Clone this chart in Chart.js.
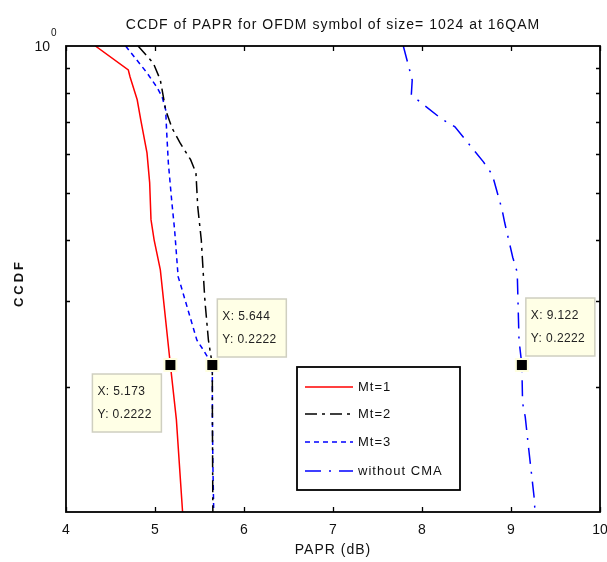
<!DOCTYPE html>
<html>
<head>
<meta charset="utf-8">
<script src="https://cdn.jsdelivr.net/npm/chart.js@4/dist/chart.umd.min.js"></script>
<style>
  body { margin: 0; background: #fff; }
  #wrap { width: 607px; height: 562px; }
</style>
</head>
<body>
<div id="wrap"><canvas id="c" width="607" height="562"></canvas></div>
<script>
// values
const seriesNames = ['Mt=1', 'Mt=2', 'Mt=3', 'without CMA'];

const mt1X = [4.33, 4.70, 4.72, 4.80, 4.84, 4.91, 4.94, 4.955, 4.99, 5.06, 5.173, 5.24, 5.31];
const mt1Y = [1.0, 0.893, 0.864, 0.776, 0.706, 0.604, 0.525, 0.441, 0.401, 0.348, 0.2222, 0.172, 0.1111];

const mt2X = [4.81, 4.98, 5.06, 5.09, 5.12, 5.19, 5.28, 5.40, 5.46, 5.48, 5.52, 5.54, 5.56, 5.60, 5.644, 5.645, 5.65];
const mt2Y = [1.0, 0.923, 0.852, 0.794, 0.740, 0.680, 0.634, 0.585, 0.550, 0.469, 0.401, 0.348, 0.302, 0.250, 0.2222, 0.172, 0.1111];

const mt3X = [4.67, 4.91, 5.02, 5.08, 5.12, 5.13, 5.15, 5.19, 5.22, 5.26, 5.28, 5.47, 5.54, 5.644, 5.645, 5.65, 5.66];
const mt3Y = [1.0, 0.881, 0.824, 0.787, 0.740, 0.673, 0.576, 0.477, 0.421, 0.337, 0.328, 0.250, 0.239, 0.2222, 0.174, 0.140, 0.1111];

const noCmaX = [7.79, 7.89, 7.88, 8.22, 8.37, 8.69, 8.79, 8.90, 8.93, 9.02, 9.07, 9.09, 9.122, 9.13, 9.16, 9.20, 9.26, 9.27];
const noCmaY = [1.0, 0.852, 0.794, 0.709, 0.683, 0.579, 0.545, 0.462, 0.434, 0.369, 0.344, 0.250, 0.2222, 0.186, 0.174, 0.149, 0.119, 0.1111];

const tipX = [5.173, 5.644, 9.122];
const tipY = [0.2222, 0.2222, 0.2222];

const xTicks = [4, 5, 6, 7, 8, 9, 10];
const yMinorTicks = [0.2, 0.3, 0.4, 0.5, 0.6, 0.7, 0.8, 0.9];

const FONT = '"Liberation Sans", Arial, sans-serif';

const pts = (xs, ys) => xs.map((x, i) => ({x: x, y: ys[i]}));

const styles = [
  {color: '#ff0000', dash: []},
  {color: '#000000', dash: [12, 5, 3, 5]},
  {color: '#0000ff', dash: [5, 4]},
  {color: '#0000ff', dash: [16, 8, 2, 8]},
];
const allData = [pts(mt1X, mt1Y), pts(mt2X, mt2Y), pts(mt3X, mt3Y), pts(noCmaX, noCmaY)];

// draws the box, ticks, labels, data tips and legend (matlab look)
const decor = {
  id: 'decor',
  afterDatasetsDraw(chart) {
    const ctx = chart.ctx;
    const a = chart.chartArea;
    const xs = chart.scales.x, ys = chart.scales.y;
    ctx.save();

    // axes box
    ctx.strokeStyle = '#000';
    ctx.lineWidth = 1.8;
    ctx.setLineDash([]);
    ctx.strokeRect(a.left, a.top, a.right - a.left, a.bottom - a.top);

    // ticks
    ctx.lineWidth = 1.3;
    ctx.beginPath();
    xTicks.forEach(v => {
      const px = Math.round(xs.getPixelForValue(v)) + 0.5;
      ctx.moveTo(px, a.bottom); ctx.lineTo(px, a.bottom - 5);
      ctx.moveTo(px, a.top); ctx.lineTo(px, a.top + 5);
    });
    yMinorTicks.forEach(v => {
      const py = Math.round(ys.getPixelForValue(v)) + 0.5;
      ctx.moveTo(a.left, py); ctx.lineTo(a.left + 4, py);
      ctx.moveTo(a.right, py); ctx.lineTo(a.right - 4, py);
    });
    ctx.stroke();

    // tick labels
    ctx.fillStyle = '#111';
    ctx.font = '14px ' + FONT;
    ctx.textAlign = 'center';
    ctx.textBaseline = 'middle';
    xTicks.forEach(v => ctx.fillText(String(v), xs.getPixelForValue(v), a.bottom + 18));
    const p1 = ys.getPixelForValue(1);
    ctx.textAlign = 'right';
    ctx.fillText('10', a.left - 16, p1 + 1);
    ctx.font = '10px ' + FONT;
    ctx.textAlign = 'left';
    ctx.fillText('0', a.left - 15, p1 - 13);

    // titles
    ctx.font = '14px ' + FONT;
    ctx.letterSpacing = '1px';
    ctx.textAlign = 'center';
    ctx.fillText('CCDF of PAPR for OFDM symbol of size= 1024 at 16QAM', (a.left + a.right) / 2, 25);
    ctx.fillText('PAPR (dB)', (a.left + a.right) / 2, 550);
    ctx.save();
    ctx.translate(19, 283);
    ctx.rotate(-Math.PI / 2);
    ctx.font = 'bold 13px ' + FONT;
    ctx.letterSpacing = '3px';
    ctx.fillText('CCDF', 0, 0);
    ctx.restore();
    ctx.letterSpacing = '0px';

    // data tips
    const boxOff = [[-78, 9], [5, -66], [4, -67]];
    tipX.forEach((tx, i) => {
      const px = xs.getPixelForValue(tx), py = ys.getPixelForValue(tipY[i]);
      const bx = px + boxOff[i][0], by = py + boxOff[i][1];
      ctx.fillStyle = '#ffffe6';
      ctx.fillRect(bx, by, 69, 58);
      ctx.strokeStyle = '#cfcfc0';
      ctx.lineWidth = 1.5;
      ctx.strokeRect(bx, by, 69, 58);
      ctx.fillStyle = '#222';
      ctx.font = '12px ' + FONT;
      ctx.letterSpacing = '0.4px';
      ctx.textAlign = 'left';
      ctx.fillText('X: ' + tx, bx + 5, by + 18);
      ctx.fillText('Y: ' + tipY[i], bx + 5, by + 41);
      ctx.letterSpacing = '0px';
      ctx.fillStyle = '#ffffe0';
      ctx.fillRect(px - 7, py - 7, 14, 14);
      ctx.fillStyle = '#000';
      ctx.fillRect(px - 5, py - 5, 10, 10);
    });

    // legend
    const lx = 297, ly = 367, lw = 163, lh = 123;
    ctx.fillStyle = '#fff';
    ctx.fillRect(lx, ly, lw, lh);
    ctx.strokeStyle = '#000';
    ctx.lineWidth = 1.8;
    ctx.strokeRect(lx, ly, lw, lh);
    const rows = [387, 414, 442, 471];
    seriesNames.forEach((name, i) => {
      ctx.strokeStyle = styles[i].color;
      ctx.lineWidth = 1.5;
      ctx.setLineDash(styles[i].dash);
      ctx.beginPath();
      ctx.moveTo(lx + 8, rows[i]);
      ctx.lineTo(lx + 56, rows[i]);
      ctx.stroke();
      ctx.setLineDash([]);
      ctx.fillStyle = '#111';
      ctx.font = '13px ' + FONT;
      ctx.letterSpacing = '1px';
      ctx.textAlign = 'left';
      ctx.fillText(name, lx + 61, rows[i]);
      ctx.letterSpacing = '0px';
    });

    ctx.restore();
  }
};

new Chart(document.getElementById('c'), {
  type: 'scatter',
  data: {
    datasets: seriesNames.map((name, i) => ({
      label: name,
      data: allData[i],
      showLine: true,
      borderColor: styles[i].color,
      borderDash: styles[i].dash,
      borderWidth: 1.5,
      pointRadius: 0,
      tension: 0,
      fill: false,
    }))
  },
  options: {
    responsive: false,
    animation: false,
    layout: { padding: { left: 66, top: 46, right: 7, bottom: 50 } },
    plugins: { legend: { display: false }, tooltip: { enabled: false } },
    scales: {
      x: { type: 'linear', min: 4, max: 10, display: false },
      y: { type: 'logarithmic', min: 1 / 9, max: 1, display: false },
    }
  },
  plugins: [decor]
});
</script>
</body>
</html>
